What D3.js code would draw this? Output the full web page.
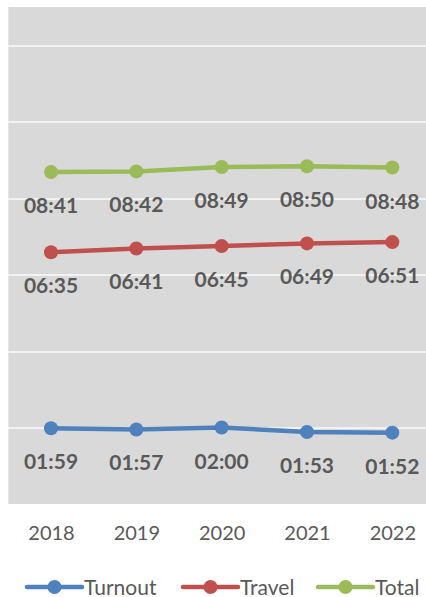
<!DOCTYPE html>
<html lang="en">
<head>
    <meta charset="UTF-8">
    <title>Response times</title>
    <script src="https://d3js.org/d3.v7.min.js"></script>
</head>
<body>

<style>
    body {
        margin: 0;
        background: #fff;
    }
    svg {
        display: block;
    }
    .grid line {
        stroke: #f2f2f2;
        stroke-width: 2;
        shape-rendering: crispEdges;
    }
    .grid path {
        display: none;
    }
    .x.axis text {
        fill: #595959;
        font: 20px Lato, sans-serif;
    }
    .x.axis path, .x.axis line {
        display: none;
    }
    .label {
        fill: #595959;
        font: bold 21px Lato, sans-serif;
    }
    .legend text {
        fill: #595959;
        font: 21px Lato, sans-serif;
    }
</style>

<script type="text/javascript">

    // data (seconds)
    var years = ["2018", "2019", "2020", "2021", "2022"];
    var turnout = [119, 117, 120, 113, 112];
    var travel = [395, 401, 405, 409, 411];
    var total = [521, 522, 529, 530, 528];
    var seriesNames = ["Turnout", "Travel", "Total"];
    var seriesColors = ["#4f81bd", "#c0504d", "#9bbb59"];
    var gridTicks = [120, 240, 360, 480, 600, 720];

    var series = [turnout, travel, total].map(function(vals, i) {
        return {
            name: seriesNames[i],
            color: seriesColors[i],
            values: vals.map(function(v, j) { return {year: years[j], value: v}; })
        };
    });

    var W = 426, H = 597;
    var plot = {left: 8.35, right: 435, top: 7, bottom: 504};

    var svg = d3.select("body").append("svg")
        .attr("width", W)
        .attr("height", H);

    var xScale = d3.scalePoint()
        .domain(years)
        .range([plot.left, plot.right])
        .padding(0.5);

    var yScale = d3.scaleLinear()
        .domain([0, 780])
        .range([plot.bottom, plot.top]);

    function fmt(s) {
        var m = Math.floor(s / 60), sec = s % 60;
        return (m < 10 ? "0" : "") + m + ":" + (sec < 10 ? "0" : "") + sec;
    }

    svg.append("rect")
        .attr("x", plot.left)
        .attr("y", plot.top)
        .attr("width", plot.right - plot.left)
        .attr("height", plot.bottom - plot.top)
        .style("fill", "#d9d9d9");

    svg.append("g")
        .attr("class", "grid")
        .attr("transform", "translate(" + plot.left + ",0)")
        .call(d3.axisLeft(yScale)
            .tickValues(gridTicks)
            .tickSize(-(plot.right - plot.left))
            .tickFormat(""));

    svg.append("g")
        .attr("class", "x axis")
        .attr("transform", "translate(0," + plot.bottom + ")")
        .call(d3.axisBottom(xScale).tickSize(0).tickPadding(22));

    var line = d3.line()
        .x(function(d) { return xScale(d.year); })
        .y(function(d) { return yScale(d.value); });

    var groups = svg.selectAll(".series")
        .data(series).enter()
        .append("g")
        .attr("class", "series");

    groups.append("path")
        .attr("d", function(d) { return line(d.values); })
        .style("fill", "none")
        .style("stroke", function(d) { return d.color; })
        .style("stroke-width", 4.5)
        .style("stroke-linejoin", "round");

    groups.selectAll("circle")
        .data(function(d) { return d.values.map(function(v) { return {v: v, color: d.color}; }); })
        .enter().append("circle")
        .attr("cx", function(d) { return xScale(d.v.year); })
        .attr("cy", function(d) { return yScale(d.v.value); })
        .attr("r", 7)
        .style("fill", function(d) { return d.color; });

    groups.selectAll(".label")
        .data(function(d) { return d.values; })
        .enter().append("text")
        .attr("class", "label")
        .attr("x", function(d) { return xScale(d.year); })
        .attr("y", function(d) { return yScale(d.value) + 41; })
        .attr("text-anchor", "middle")
        .text(function(d) { return fmt(d.value); });

    // legend
    var legendX = [27, 183, 318];
    var legend = svg.append("g")
        .attr("class", "legend")
        .attr("transform", "translate(0,587)");

    var items = legend.selectAll("g")
        .data(series).enter()
        .append("g")
        .attr("transform", function(d, i) { return "translate(" + legendX[i] + ",0)"; });

    items.append("line")
        .attr("x1", 0).attr("x2", 55)
        .style("stroke", function(d) { return d.color; })
        .style("stroke-width", 4.5)
        .style("stroke-linecap", "round");

    items.append("circle")
        .attr("cx", 27.5)
        .attr("r", 7)
        .style("fill", function(d) { return d.color; });

    items.append("text")
        .attr("x", 57)
        .attr("y", 7.5)
        .text(function(d) { return d.name; });

</script>

</body>
</html>
